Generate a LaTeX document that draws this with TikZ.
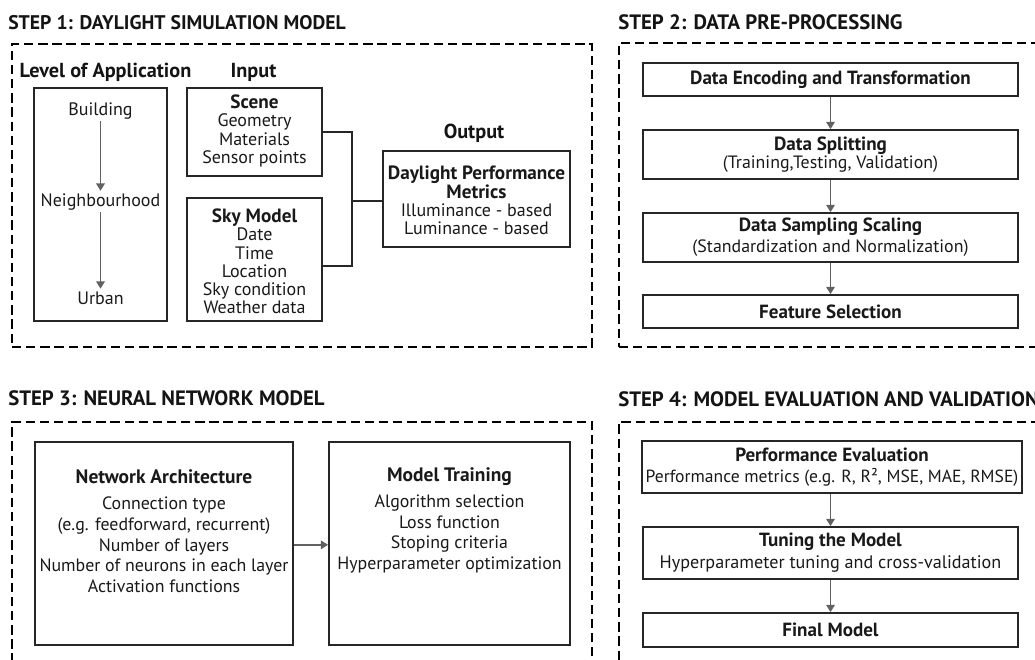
\documentclass[tikz,border=0pt]{standalone}
\usepackage{fontspec}
\setmainfont{PT Sans}
\usetikzlibrary{arrows.meta,fit}
\newcommand\hbA[1]{{\fontsize{14.4}{14}\selectfont\bfseries #1}}
\newcommand\hbB[1]{{\fontsize{14.3}{14}\selectfont\bfseries #1}}
\newcommand\hbC[1]{{\fontsize{14.6}{14}\selectfont\bfseries #1}}
\begin{document}
\begin{tikzpicture}[x=0.75pt,y=-0.75pt,
  region/.style={draw=black, line width=2.2pt, dash pattern=on 7pt off 3.6pt, inner sep=0pt},
  box/.style={draw=black!85, line width=1.35pt, inner sep=0pt},
  ttl/.style={font=\fontsize{15.6}{18}\selectfont\bfseries, anchor=west, inner sep=0pt, text=black!92},
  hdr/.style={font=\fontsize{15.2}{16}\selectfont\bfseries, inner sep=0pt, text=black!92},
  tone/.style={font=\fontsize{13.5}{13.7}\selectfont, align=center, inner sep=0pt, text=black!90},
  ttwo/.style={font=\fontsize{13.4}{13.5}\selectfont, align=center, inner sep=0pt, text=black!90},
  tthree/.style={font=\fontsize{13.4}{15.5}\selectfont, align=center, inner sep=0pt, text=black!90},
  arr/.style={draw=black!62, line width=1.1pt, -{Triangle[width=6.5pt,length=5.5pt]}},
  link/.style={draw=black!85, line width=1.35pt},
]
\clip (0,0) rectangle (1035,660);

% ---------------- STEP 1 ----------------
\node[ttl, font=\fontsize{14.8}{18}\selectfont\bfseries] (t1) at (8,23) {STEP 1: DAYLIGHT SIMULATION MODEL};
\node[region, fit={(12,44) (592,347)}] (r1) {};
\node[hdr] (loa) at (105.5,72) {Level of Application};
\node[hdr] (inp) at (253.5,72) {Input};
\node[box, fit={(34,88) (167,321)}] (lvl) {};
\node[tone] (bld) at (100.5,111) {Building};
\node[tone] (nbh) at (100.5,202) {Neighbourhood};
\node[tone] (urb) at (100.5,298) {Urban};
\draw[arr] ([yshift=-1pt]bld.south -| lvl.center) -- ([yshift=2pt]nbh.north -| lvl.center);
\draw[arr] ([yshift=-1pt]nbh.south -| lvl.center) -- ([yshift=2pt]urb.north -| lvl.center);

\node[box, fit={(187,88) (322,176)}] (scene) {};
\node[tone] (scenet) at (254.5,131) {\hbA{Scene}\\Geometry\\Materials\\Sensor points};
\node[box, fit={(187,198) (322,321)}] (sky) {};
\node[tone] (skyt) at (254.5,261.5) {\hbA{Sky Model}\\Date\\Time\\Location\\Sky condition\\Weather data};

\node[hdr] (outl) at (474,133) {Output};
\node[box, fit={(383,151) (570,247)}] (out) {};
\node[tone] (outt) at (476.5,200.5) {\hbA{Daylight Performance}\\\hbA{Metrics}\\Illuminance - based\\Luminance - based};
\coordinate (jn) at (352,201);
\draw[link] (scene.east) -| (jn) |- ([yshift=-4.9pt]sky.east);
\draw[link] (jn) -- (out.west |- jn);

% ---------------- STEP 2 ----------------
\node[ttl] (t2) at (618,22) {STEP 2: DATA PRE-PROCESSING};
\node[region, fit={(619,43) (1045,347)}] (r2) {};
\node[box, fit={(643,63) (1018,96)}] (enc) {};
\node[ttwo] at (enc.center) {\hbB{Data Encoding and Transformation}};
\node[box, fit={(643,130) (1018,179)}] (spl) {};
\node[ttwo] at (spl.center) {\hbB{Data Splitting}\\(Training,Testing, Validation)};
\node[box, fit={(643,213) (1018,262)}] (smp) {};
\node[ttwo, font=\fontsize{13.4}{15.8}\selectfont] at (smp.center) {\hbB{Data Sampling Scaling}\\(Standardization and Normalization)};
\node[box, fit={(643,295) (1018,328)}] (fsel) {};
\node[ttwo] at (fsel.center) {\hbB{Feature Selection}};
\draw[arr] (enc) -- (spl);
\draw[arr] (spl) -- (smp);
\draw[arr] (smp) -- (fsel);

% ---------------- STEP 3 ----------------
\node[ttl] (t3) at (8,398) {STEP 3: NEURAL NETWORK MODEL};
\node[region, fit={(12,422) (592,670)}] (r3) {};
\node[box, fit={(35,442) (293,645)}] (net) {};
\node[tthree] (nett) at (164,531.5) {\hbC{Network Architecture}\\[4pt]Connection type\\(e.g. feedforward, recurrent)\\Number of layers\\Number of neurons in each layer\\Activation functions};
\node[box, fit={(329,442) (570,645)}] (trn) {};
\node[tthree] (trnt) at (449.5,520.5) {\hbC{Model Training}\\[4pt]Algorithm selection\\Loss function\\Stoping criteria\\Hyperparameter optimization};
\draw[arr] ([yshift=-1pt]net.east) -- ([yshift=-1pt]trn.west);

% ---------------- STEP 4 ----------------
\node[ttl] (t4) at (618,399) {STEP 4: MODEL EVALUATION AND VALIDATION};
\node[region, fit={(619,422) (1045,670)}] (r4) {};
\node[box, fit={(642,441) (1022,493)}] (pev) {};
\node[ttwo, font=\fontsize{13.2}{15.8}\selectfont] at (pev.center) {\hbB{Performance Evaluation}\\Performance metrics (e.g. R, R², MSE, MAE, RMSE)};
\node[box, fit={(643,527) (1018,579)}] (tun) {};
\node[ttwo, font=\fontsize{13.6}{16.3}\selectfont] at (tun.center) {\hbB{Tuning the Model}\\Hyperparameter tuning and cross-validation};
\node[box, fit={(643,613) (1018,647)}] (fin) {};
\node[ttwo] at (fin.center) {\hbB{Final Model}};
\draw[arr] (pev.south -| tun.center) -- (tun);
\draw[arr] (tun) -- (fin);
\end{tikzpicture}
\end{document}
